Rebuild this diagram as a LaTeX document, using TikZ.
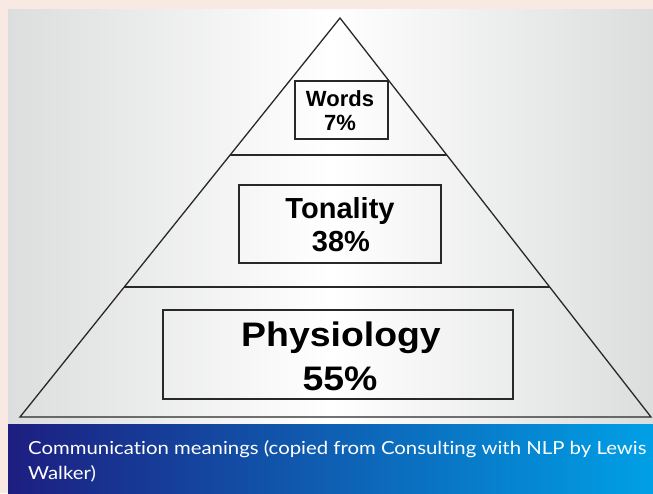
\documentclass[tikz,border=0pt]{standalone}
\usepackage{fontspec}
\setmainfont{Liberation Sans}
\newfontfamily\capfont{Lato}[Ligatures=CommonOff]
\definecolor{pagebg}{RGB}{248,234,226}
\definecolor{panelgray}{RGB}{220,221,221}
\definecolor{navy}{RGB}{29,30,128}
\definecolor{skyblue}{RGB}{0,160,230}
\definecolor{inkline}{RGB}{40,40,40}
\tikzset{
  pyr/.style={draw=inkline, line width=1.3pt, line join=miter},
  boxstyle/.style={draw=inkline, line width=1.2pt, rectangle, inner sep=0pt},
  lbl/.style={anchor=base, inner sep=0pt, text=black},
  caplbl/.style={anchor=base west, inner sep=0pt, text=white, font=\capfont\fontsize{18}{18}\selectfont},
}
\begin{document}
\begin{tikzpicture}[x=1pt,y=-1pt]
\useasboundingbox (0,0) rectangle (653,493);
\fill[pagebg] (0,0) rectangle (653,493);
\shade[left color=panelgray, right color=panelgray, middle color=white] (8,9) rectangle (653,424);
\shade[left color=navy, right color=skyblue] (8,424) rectangle (653,493);
% pyramid
\coordinate (apex) at (340,18);
\coordinate (bl) at (20,417);
\coordinate (br) at (651,417);
\coordinate (d1l) at (230,155);
\coordinate (d1r) at (447,155);
\coordinate (d2l) at (124,287);
\coordinate (d2r) at (550,287);
\draw[pyr] (apex) -- (bl) -- (br) -- cycle;
\draw[pyr] (d1l) -- (d1r);
\draw[pyr] (d2l) -- (d2r);
% boxes
\node[boxstyle, minimum width=93pt, minimum height=58pt] (words) at (341.5,110) {};
\node[boxstyle, minimum width=202pt, minimum height=78pt] (tonality) at (340,224) {};
\node[boxstyle, minimum width=350pt, minimum height=89pt] (physio) at (338,354.5) {};
% labels
\node[lbl, font=\bfseries\fontsize{22}{22}\selectfont] (wt) at (340,106) {Words};
\node[lbl, font=\bfseries\fontsize{22}{22}\selectfont] (wp) at (340,130) {7\%};
\node[lbl, font=\bfseries\fontsize{29}{29}\selectfont] (tt) at (340,218) {Tonality};
\node[lbl, font=\bfseries\fontsize{29}{29}\selectfont] (tp) at (341,251) {38\%};
\node[lbl, font=\bfseries\fontsize{34}{34}\selectfont] (pt) at (341,346) {\scalebox{1.1}[1]{Physiology}};
\node[lbl, font=\bfseries\fontsize{34}{34}\selectfont] (pp) at (340,390) {\scalebox{1.1}[1]{55\%}};
% caption
\node[caplbl] (cap1) at (28,454) {\scalebox{1.13}[1]{Communication meanings (copied from Consulting with NLP by Lewis}};
\node[caplbl] (cap2) at (28,479) {\scalebox{1.13}[1]{Walker)}};
\end{tikzpicture}
\end{document}
